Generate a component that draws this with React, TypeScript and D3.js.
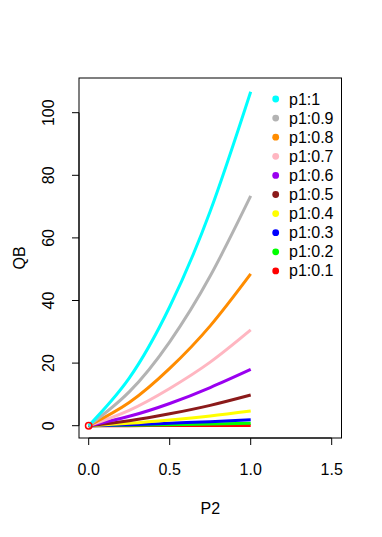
import React, { useEffect } from 'react'
import * as d3 from 'd3'

const p2Values = [0, 0.25, 0.5, 0.75, 1]
const seriesNames = ['p1:1', 'p1:0.9', 'p1:0.8', 'p1:0.7', 'p1:0.6', 'p1:0.5', 'p1:0.4', 'p1:0.3', 'p1:0.2', 'p1:0.1']
const seriesColors = ['#00FFFF', '#B3B3B3', '#FF8C00', '#FFB6C1', '#9A00F0', '#8B1A1A', '#FFFF00', '#0000FF', '#00FF00', '#FF0000']
const qb1 = [0, 15.2, 38.0, 68.5, 106.7]
const qb09 = [0, 10.8, 26.8, 47.8, 73.4]
const qb08 = [0, 7.4, 18.3, 31.9, 48.5]
const qb07 = [0, 4.9, 11.9, 20.3, 30.6]
const qb06 = [0, 3.0, 7.1, 12.2, 18.0]
const qb05 = [0, 1.6, 3.8, 6.5, 9.8]
const qb04 = [0, 0.75, 1.8, 3.1, 4.7]
const qb03 = [0, 0.3, 0.8, 1.3, 1.9]
const qb02 = [0, 0.12, 0.32, 0.55, 0.8]
const qb01 = [0, 0.02, 0.05, 0.07, 0.1]
const seriesValues = [qb1, qb09, qb08, qb07, qb06, qb05, qb04, qb03, qb02, qb01]
const xTicks = [0, 0.5, 1, 1.5]
const yTicks = [0, 20, 40, 60, 80, 100]

const font = '"Liberation Sans", Arial, Helvetica, sans-serif'

export default function App() {
  useEffect(() => {
    document.body.style.margin = '0'
  }, [])

  const width = 382
  const height = 537
  const box = { left: 79, right: 341.5, top: 78, bottom: 438 }

  const x = d3.scaleLinear().domain([0, 1.5]).range([88.7, 331.7])
  const y = d3.scaleLinear().domain([0, 100]).range([425.7, 112.7])

  const line = d3
    .line<number>()
    .x((_, i) => x(p2Values[i]))
    .y((d) => y(d))
    .curve(d3.curveNatural)

  const order = d3.range(seriesNames.length).reverse()

  return (
    <svg width={width} height={height} style={{ display: 'block', background: '#fff' }} fontFamily={font}>
      {/* curves */}
      {order.map((i) => (
        <path key={seriesNames[i]} d={line(seriesValues[i]) || ''} fill="none" stroke={seriesColors[i]} strokeWidth={3} />
      ))}
      <circle cx={x(0)} cy={y(0)} r={3.2} fill="none" stroke="#FF0000" strokeWidth={1.5} />

      {/* box */}
      <rect x={box.left} y={box.top} width={box.right - box.left} height={box.bottom - box.top} fill="none" stroke="#000" strokeWidth={1} />

      {/* x axis */}
      <line x1={x(0)} x2={x(1.5)} y1={box.bottom} y2={box.bottom} stroke="#000" />
      {xTicks.map((t) => (
        <g key={t}>
          <line x1={x(t)} x2={x(t)} y1={box.bottom} y2={box.bottom + 7} stroke="#000" />
          <text x={x(t)} y={475} fontSize={16} textAnchor="middle">
            {t.toFixed(1)}
          </text>
        </g>
      ))}
      <text x={(box.left + box.right) / 2} y={514} fontSize={16} textAnchor="middle">
        P2
      </text>

      {/* y axis */}
      <line x1={box.left} x2={box.left} y1={y(0)} y2={y(100)} stroke="#000" />
      {yTicks.map((t) => (
        <g key={t}>
          <line x1={box.left - 7} x2={box.left} y1={y(t)} y2={y(t)} stroke="#000" />
          <text transform={`translate(54,${y(t)}) rotate(-90)`} fontSize={16} textAnchor="middle">
            {t}
          </text>
        </g>
      ))}
      <text transform={`translate(25,${(box.top + box.bottom) / 2}) rotate(-90)`} fontSize={16} textAnchor="middle">
        QB
      </text>

      {/* legend */}
      {seriesNames.map((name, i) => (
        <g key={name} transform={`translate(0,${99 + i * 19.1})`}>
          <circle cx={275.7} cy={0} r={3.4} fill={seriesColors[i]} />
          <text x={289} y={5.5} fontSize={16}>
            {name}
          </text>
        </g>
      ))}
    </svg>
  )
}
